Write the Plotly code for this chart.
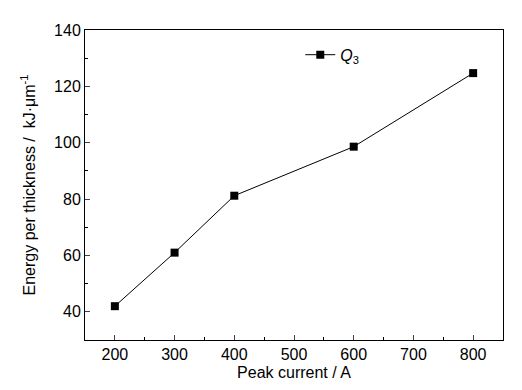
import plotly.graph_objects as go

peak_current = [200, 300, 400, 600, 800]
energy = [42, 61, 81.2, 98.6, 124.7]
x_ticks = [200, 300, 400, 500, 600, 700, 800]
y_ticks = [40, 60, 80, 100, 120, 140]

fig = go.Figure()
fig.add_trace(go.Scatter(
    x=peak_current, y=energy, mode="lines+markers",
    line=dict(color="black", width=1),
    marker=dict(symbol="square", size=8, color="black"),
    name="<i>Q</i><sub>3</sub>",
))

font = dict(family="Liberation Sans, Arial, sans-serif", size=16, color="black")
fig.update_layout(
    width=522, height=390,
    margin=dict(l=77, r=27, t=22, b=58, autoexpand=False),
    paper_bgcolor="white", plot_bgcolor="white",
    font=font,
    showlegend=True,
    legend=dict(x=0.515, y=0.92, xanchor="left", yanchor="middle",
                bgcolor="rgba(0,0,0,0)", font=dict(size=16), itemwidth=30),
)
fig.update_xaxes(
    range=[150, 850], tickvals=x_ticks, ticks="inside", ticklen=5,
    showline=True, linecolor="black", linewidth=1, mirror=True,
    showgrid=False, zeroline=False, automargin=False,
    minor=dict(tickvals=[250, 350, 450, 550, 650, 750], ticks="inside", ticklen=3, tickcolor="black"),
    title=dict(text="Peak current / A", standoff=4, font=dict(size=16)),
    tickfont=dict(size=16),
)
fig.update_yaxes(
    range=[30, 140], tickvals=y_ticks, ticks="inside", ticklen=5,
    showline=True, linecolor="black", linewidth=1, mirror=True,
    showgrid=False, zeroline=False, automargin=False,
    minor=dict(tickvals=[50, 70, 90, 110, 130], ticks="inside", ticklen=3, tickcolor="black"),
    title=dict(text="Energy per thickness /  kJ·μm<sup>-1</sup>", standoff=14, font=dict(size=16)),
    tickfont=dict(size=16),
)
fig.write_html("out.html")
